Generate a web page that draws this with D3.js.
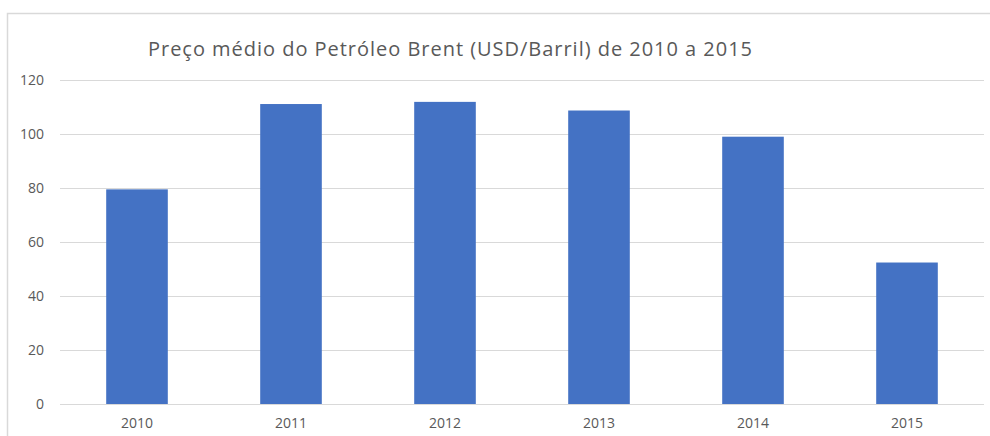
<!DOCTYPE html>
<html>
<head>
<meta charset="utf-8">
<script src="https://cdn.jsdelivr.net/npm/d3@7"></script>
<style>
  body { margin: 0; background: #fff; }
  svg { display: block; font-family: "Open Sans", "Noto Sans", sans-serif; }
</style>
</head>
<body>
<div id="chart"></div>
<script>
// Data
const years = ['2010', '2011', '2012', '2013', '2014', '2015'];
const prices = [79.5, 111.1, 111.9, 108.7, 99.0, 52.4];
const yTicks = [0, 20, 40, 60, 80, 100, 120];

const W = 990, H = 436;
const margin = { top: 80, right: 6, bottom: 32, left: 60 };
const width = W - margin.left - margin.right;
const height = H - margin.top - margin.bottom;
const fontFamily = '"Open Sans", "Noto Sans", sans-serif';

const svg = d3.select('#chart')
    .append('svg')
    .attr('width', W)
    .attr('height', H);

// chart frame (cut off on right and bottom like the screenshot)
svg.append('path')
    .attr('d', `M7.5,${H} V13.5 H${W}`)
    .attr('fill', 'none')
    .attr('stroke', '#d9d9d9')
    .attr('stroke-width', 1.5);

const g = svg.append('g')
    .attr('transform', `translate(${margin.left}, ${margin.top})`);

const x = d3.scaleBand()
    .domain(years)
    .range([0, width])
    .paddingInner(0.6)
    .paddingOuter(0.3);

const y = d3.scaleLinear()
    .domain([0, 120])
    .range([height, 0]);

// gridlines
g.selectAll('.grid')
    .data(yTicks)
    .join('line')
    .attr('class', 'grid')
    .attr('x1', 0)
    .attr('x2', width)
    .attr('y1', d => Math.round(y(d)) + 0.5)
    .attr('y2', d => Math.round(y(d)) + 0.5)
    .attr('stroke', '#d9d9d9')
    .attr('stroke-width', 1.2);

// bars
g.selectAll('.bar')
    .data(prices)
    .join('rect')
    .attr('class', 'bar')
    .attr('x', (d, i) => x(years[i]))
    .attr('y', d => y(d))
    .attr('width', x.bandwidth())
    .attr('height', d => y(0) - y(d))
    .attr('fill', '#4472c4');

// y axis
const yAxis = g.append('g')
    .call(d3.axisLeft(y).tickValues(yTicks).tickSize(0).tickPadding(16))
    .attr('font-family', fontFamily)
    .attr('font-size', 14);
yAxis.select('.domain').remove();
yAxis.selectAll('text')
    .attr('fill', '#595959');

// x axis
const xAxis = g.append('g')
    .attr('transform', `translate(0, ${height})`)
    .call(d3.axisBottom(x).tickSize(0).tickPadding(14))
    .attr('font-family', fontFamily)
    .attr('font-size', 14);
xAxis.select('.domain').remove();
xAxis.selectAll('text')
    .attr('fill', '#595959');

// title
svg.append('text')
    .attr('x', 450)
    .attr('y', 56)
    .attr('text-anchor', 'middle')
    .attr('fill', '#595959')
    .attr('textLength', 604)
    .attr('lengthAdjust', 'spacing')
    .style('font-size', '20px')
    .text('Preço médio do Petróleo Brent (USD/Barril) de 2010 a 2015');
</script>
</body>
</html>
